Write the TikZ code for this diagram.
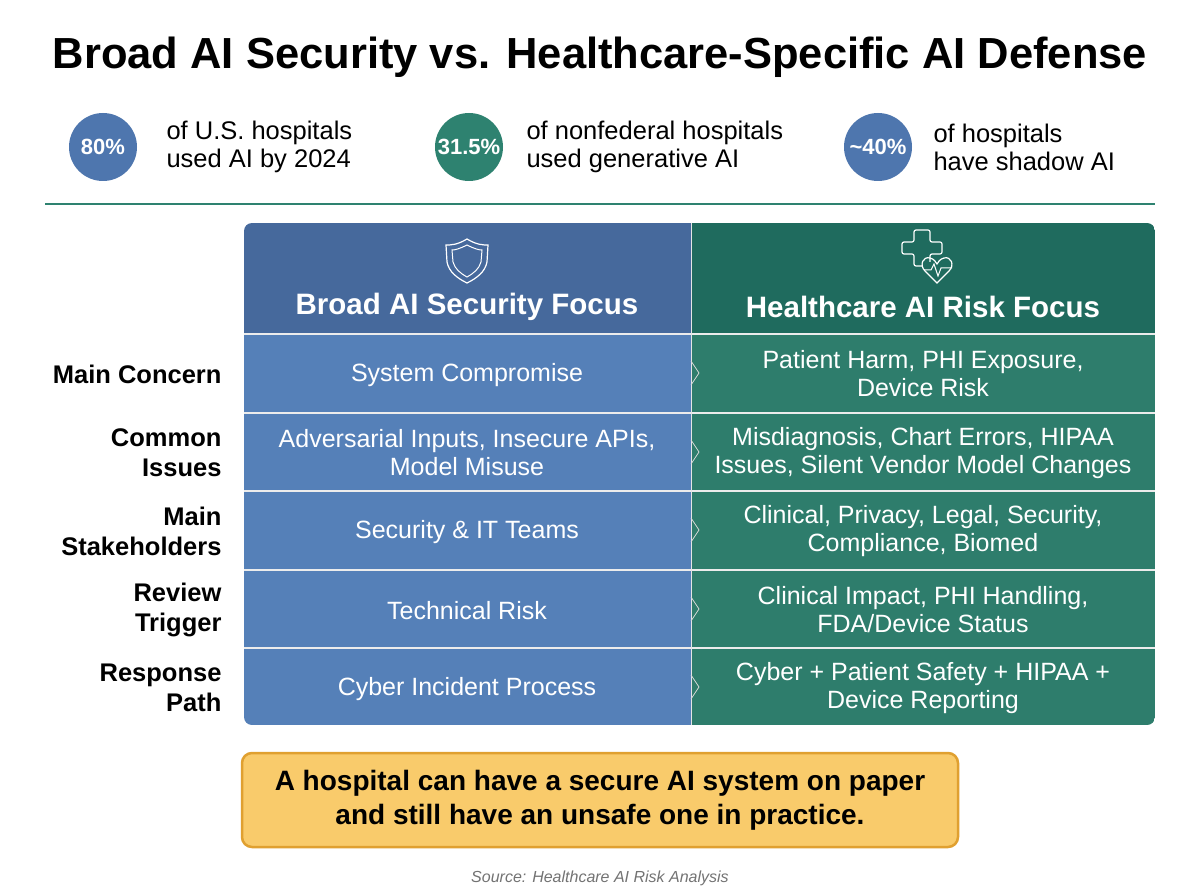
\documentclass[tikz,border=0pt]{standalone}
\usepackage{fontspec}
\setmainfont{Liberation Sans}
\usetikzlibrary{positioning}
\definecolor{statblue}{HTML}{4E76AE}
\definecolor{statgreen}{HTML}{2E8270}
\definecolor{headblue}{HTML}{46699C}
\definecolor{bodyblue}{HTML}{5580B8}
\definecolor{headgreen}{HTML}{1F6B5E}
\definecolor{bodygreen}{HTML}{2E7D6C}
\definecolor{noteyellow}{HTML}{F9CB6B}
\definecolor{noteedge}{HTML}{E0A030}
\tikzset{
  stat/.style={circle,minimum size=68pt,inner sep=0pt,text=white,font=\fontsize{22}{22}\selectfont\bfseries},
  stattext/.style={anchor=west,align=left,font=\fontsize{25.5}{28}\selectfont},
  rowlabel/.style={anchor=east,align=right,font=\fontsize{25.5}{30}\selectfont\bfseries},
  cell/.style={align=center,text=white,font=\fontsize{25}{28}\selectfont},
  head/.style={align=center,text=white,font=\fontsize{29.5}{32}\selectfont\bfseries},
}
\begin{document}
\begin{tikzpicture}[x=1pt,y=-1pt]
    \useasboundingbox[fill=white] (0,0) rectangle (1200,896);
    \node[font=\fontsize{43.5}{46}\selectfont\bfseries] (title) at (600,57) {Broad AI Security vs. Healthcare-Specific AI Defense};

    % stats
    \node[stat,fill=statblue] (s1) at (103,147) {80\%};
    \node[stattext] (t1) at (163,147) {of U.S. hospitals\\used AI by 2024};
    \node[stat,fill=statgreen] (s2) at (469,147) {31.5\%};
    \node[stattext] (t2) at (523,147) {of nonfederal hospitals\\used generative AI};
    \node[stat,fill=statblue] (s3) at (878,147) {\textasciitilde40\%};
    \node[stattext] (t3) at (930,147) {of hospitals\\have shadow AI};
    \draw[statgreen,line width=1.5pt] (45,204) -- (1155,204);

    % table
    \begin{scope}
      \clip[rounded corners=8pt] (244,223) rectangle (1155,725);
      \fill[headblue] (244,223) rectangle (691,334);
      \fill[bodyblue] (244,334) rectangle (691,725);
      \fill[headgreen] (691,223) rectangle (1155,334);
      \fill[bodygreen] (691,334) rectangle (1155,725);
      \foreach \y in {334,413,491,570,648}
        \draw[white!85!gray,line width=1.2pt] (244,\y) -- (1155,\y);
      \draw[white!80!gray,line width=1pt] (691,223) -- (691,725);
      \foreach \y in {373,452,530,609,687}
        \draw[white!70!gray,line width=0.8pt] (691,\y-12) -- (699,\y) -- (691,\y+12);
    \end{scope}

    % icons
    \draw[white,line width=1.2pt] (467,239) .. controls (477,245) and (483,245) .. (488,245) -- (487,262) .. controls (485,272) and (477,278) .. (467,283) .. controls (457,278) and (449,272) .. (447,262) -- (446,245) .. controls (451,245) and (457,245) .. (467,239) -- cycle;
    \draw[white,line width=1pt] (467,245) .. controls (475,249) and (479,250) .. (482,250) -- (481,262) .. controls (479,269) and (474,273) .. (467,277) .. controls (460,273) and (455,269) .. (453,262) -- (452,250) .. controls (455,250) and (459,249) .. (467,245) -- cycle;
    \draw[white,line width=1.2pt,rounded corners=2pt] (930,262) -- (930,254) -- (942,254) -- (942,242) -- (930,242) -- (930,230) -- (914,230) -- (914,242) -- (902,242) -- (902,254) -- (914,254) -- (914,266) -- (922,266);
    \draw[white,line width=1.2pt] (937,283) -- (925,271) .. controls (919,265) and (923,256) .. (930,258) .. controls (934,259) and (936,262) .. (937,264) .. controls (938,262) and (940,259) .. (944,258) .. controls (951,256) and (955,265) .. (949,271) -- cycle;
    \draw[white,line width=1pt] (924,270) -- (931,270) -- (934,264) -- (938,276) -- (941,268) -- (952,268);

    \node[head] (hl) at (467,307) {Broad AI Security Focus};
    \node[head] (hr) at (923,307) {Healthcare AI Risk Focus};

    % rows
    \node[rowlabel] (l1) at (225,374) {Main Concern};
    \node[rowlabel] (l2) at (225,453) {Common\\Issues};
    \node[rowlabel] (l3) at (225,531) {Main\\Stakeholders};
    \node[rowlabel] (l4) at (225,610) {Review\\Trigger};
    \node[rowlabel] (l5) at (225,688) {Response\\Path};
    \node[cell] (a1) at (467,375) {System Compromise};
    \node[cell] (a2) at (467,453) {Adversarial Inputs, Insecure APIs,\\Model Misuse};
    \node[cell] (a3) at (467,532) {Security \& IT Teams};
    \node[cell] (a4) at (467,611) {Technical Risk};
    \node[cell] (a5) at (467,689) {Cyber Incident Process};
    \node[cell] (b1) at (923,374) {Patient Harm, PHI Exposure,\\Device Risk};
    \node[cell] (b2) at (923,453) {Misdiagnosis, Chart Errors, HIPAA\\Issues, Silent Vendor Model Changes};
    \node[cell] (b3) at (923,531) {Clinical, Privacy, Legal, Security,\\Compliance, Biomed};
    \node[cell] (b4) at (923,610) {Clinical Impact, PHI Handling,\\FDA/Device Status};
    \node[cell] (b5) at (923,688) {Cyber + Patient Safety + HIPAA +\\Device Reporting};

    % note
    \draw[fill=noteyellow,draw=noteedge,line width=2.5pt,rounded corners=10pt] (242,753) rectangle (958,847);
    \node[align=center,font=\fontsize{28}{34}\selectfont\bfseries] (note) at (600,800) {A hospital can have a secure AI system on paper\\and still have an unsafe one in practice.};
    \node[text=gray!90!black,font=\fontsize{16}{18}\selectfont\itshape] (src) at (600,878) {Source: Healthcare AI Risk Analysis};
\end{tikzpicture}
\end{document}
